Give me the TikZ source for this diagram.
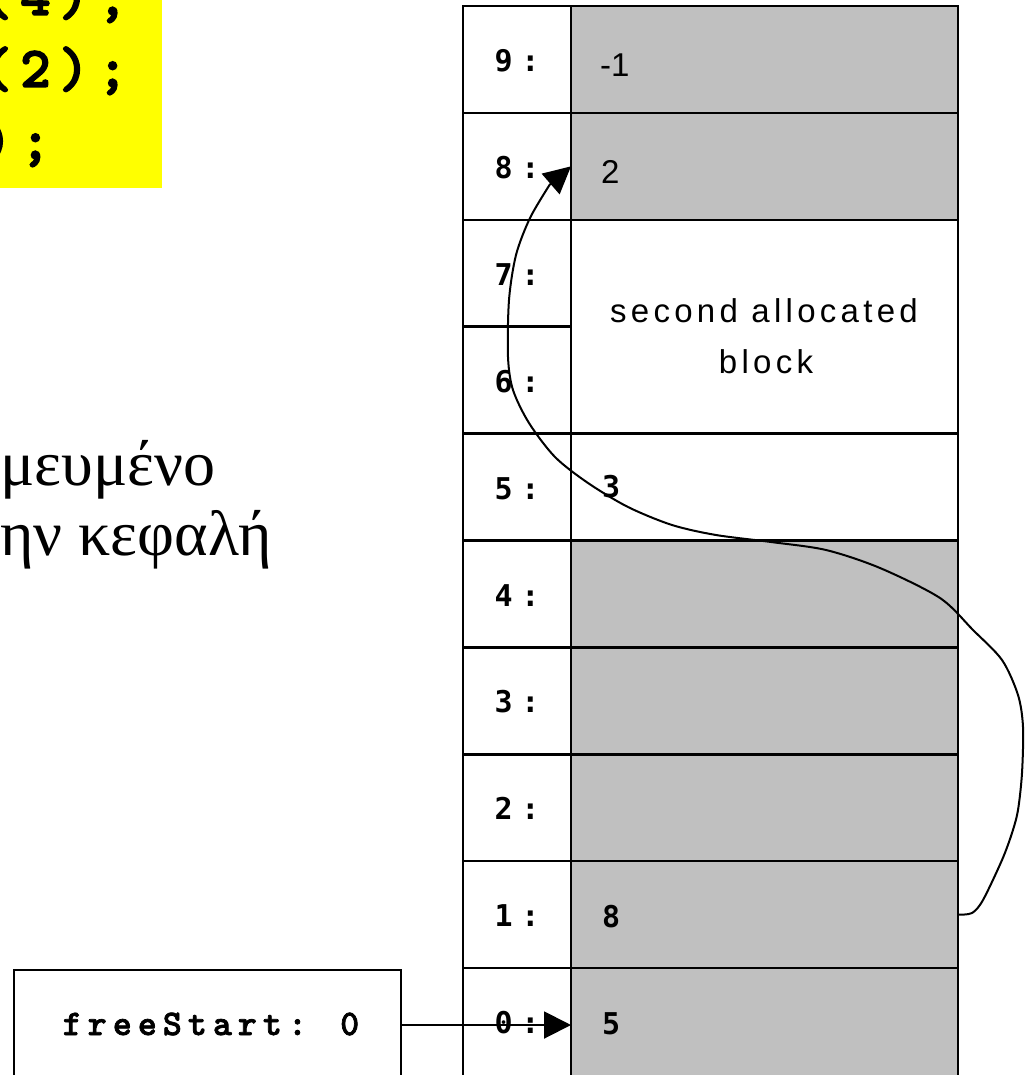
\documentclass[tikz,border=0pt]{standalone}
\usepackage{fontspec}
\usetikzlibrary{arrows.meta}
\setmainfont{Liberation Serif}
\newfontfamily\greekfont{Liberation Serif}
\newfontfamily\arialfont{Liberation Sans}
\newfontfamily\arialsp{Liberation Sans}[LetterSpace=13]
\newfontfamily\codefont{lmmonolt10-bold.otf}[LetterSpace=14,FakeBold=2.5]
\newfontfamily\fsfont{lmmonolt10-bold.otf}[LetterSpace=17,FakeBold=2]
\newfontfamily\lblfont{DejaVu Sans Mono}[LetterSpace=29]
\definecolor{cellgrey}{HTML}{C0C0C0}
\definecolor{codeyellow}{HTML}{FFFF00}
\begin{document}
\begin{tikzpicture}[x=1pt,y=-1pt,
  tbl/.style={draw, line width=2.5pt, inner sep=0pt, outer sep=0pt},
  lcell/.style={tbl, fill=white, minimum width=108pt, minimum height=106.9pt},
  gcell/.style={tbl, fill=cellgrey, minimum width=387pt, minimum height=106.9pt},
  wcell/.style={tbl, fill=white, minimum width=387pt, minimum height=106.9pt},
  lbl/.style={inner sep=0pt, anchor=base, font={\lblfont\bfseries\fontsize{30}{30}\selectfont}},
  monoval/.style={inner sep=0pt, anchor=base west, font={\lblfont\bfseries\fontsize{30}{30}\selectfont}},
  sansval/.style={inner sep=0pt, anchor=base west, font={\arialfont\fontsize{33}{33}\selectfont}},
  blocktxt/.style={inner sep=0pt, anchor=base, font={\arialsp\fontsize{33}{33}\selectfont}},
  codetxt/.style={inner sep=0pt, anchor=base west, font={\codefont\fontsize{58}{58}\selectfont}},
  greektxt/.style={inner sep=0pt, anchor=base west, font={\greekfont\fontsize{64}{64}\selectfont}},
  conn/.style={line width=2pt},
  bigtip/.style={-{Triangle[length=27pt,width=27pt]}}
]
\useasboundingbox (0,0) rectangle (1033,1075);

% code box (cut by the frame)
\node[fill=codeyellow, inner sep=0pt, minimum width=200pt, minimum height=220pt, anchor=south east] (codebox) at (162,188) {};
\node[codetxt] (code1) at (-18.5,15) {(4);};
\node[codetxt] (code2) at (-18.5,87) {(2);};
\node[codetxt] (code3) at (-18.5,159) {);};

% greek text (cut by the frame)
\node[greektxt] (gr1) at (0,485) {μευμένο};
\node[greektxt] (gr2) at (0,555) {ην κεφαλή};

% left column cells
\node[lcell] (L9) at (517,59.45) {};
\node[lcell] (L8) at (517,166.35) {};
\node[lcell] (L7) at (517,273.25) {};
\node[lcell] (L6) at (517,380.15) {};
\node[lcell] (L5) at (517,487.05) {};
\node[lcell] (L4) at (517,593.95) {};
\node[lcell] (L3) at (517,700.85) {};
\node[lcell] (L2) at (517,807.75) {};
\node[lcell] (L1) at (517,914.65) {};
\node[lcell, minimum height=120pt] (L0) at (517,1028.1) {};

% right column cells
\node[gcell] (V9) at (764.5,59.45) {};
\node[gcell] (V8) at (764.5,166.35) {};
\node[wcell, minimum height=213.8pt] (V76) at (764.5,326.7) {};
\node[wcell] (V5) at (764.5,487.05) {};
\node[gcell] (V4) at (764.5,593.95) {};
\node[gcell] (V3) at (764.5,700.85) {};
\node[gcell] (V2) at (764.5,807.75) {};
\node[gcell] (V1) at (764.5,914.65) {};
\node[gcell, minimum height=120pt] (V0) at (764.5,1028.1) {};

% labels
\node[lbl] (t9) at (517,71.5) {9:};
\node[lbl] (t8) at (517,178.4) {8:};
\node[lbl] (t7) at (517,285.3) {7:};
\node[lbl] (t6) at (517,392.2) {6:};
\node[lbl] (t5) at (517,499.1) {5:};
\node[lbl] (t4) at (517,606) {4:};
\node[lbl] (t3) at (517,712.9) {3:};
\node[lbl] (t2) at (517,819.8) {2:};
\node[lbl] (t1) at (517,926.7) {1:};
\node[lbl] (t0) at (517,1033.6) {0:};

% values
\node[sansval] (x9) at (600,77) {-1};
\node[sansval] (x8) at (601,184) {2};
\node[monoval] (x5) at (602,497) {3};
\node[monoval] (x1) at (602,927) {8};
\node[monoval] (x0) at (602,1034) {5};
\node[blocktxt] (blk1) at (764,322) {second allocated};
\node[blocktxt] (blk2) at (766,373) {block};

% freeStart box
\node[tbl, fill=white, minimum width=387pt, minimum height=110pt] (fsbox) at (207.5,1025) {};
\node[inner sep=0pt, anchor=base, font={\fsfont\fontsize{36}{36}\selectfont}] (fstxt) at (211,1035) {freeStart: 0};

% connectors
\draw[conn, bigtip] (fsbox.east) -- (fsbox.east -| V0.west);
\draw[conn, bigtip] plot[smooth, tension=0.5] coordinates {
  (V1.east) (972,913) (983,900) (1002,860) (1012,833) (1018,810) (1022,773)
  (1023,727) (1018,695) (1002,660) (973,630) (940,598) (880,568) (826,550)
  (771,542) (716,535) (672,525) (628,507) (588,483) (555,457) (529,423)
  (513,390) (508,357) (509,300) (516,255) (530,218) (549.5,185)} -- (V8.west);
\end{tikzpicture}
\end{document}
